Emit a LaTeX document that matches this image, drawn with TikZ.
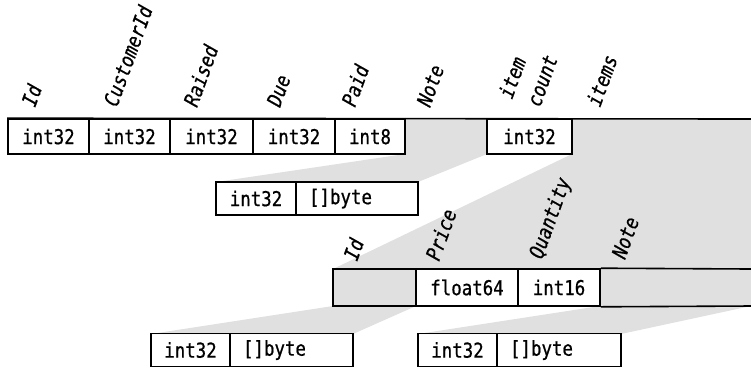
\documentclass[tikz,border=0pt]{standalone}
\usepackage{fontspec}
\newfontfamily\monof[FakeStretch=0.85,FakeBold=0.7]{DejaVu Sans Mono}
\begin{document}
\begin{tikzpicture}[x=1pt,y={(0pt,-1pt)},
  cell/.style={draw, line width=1.6pt, inner sep=0pt, minimum height=35pt,
    font=\monof\fontsize{20.5}{24}\selectfont},
  bcell/.style={cell, text width=#1, align=left, inner xsep=13pt},
  bord/.style={line width=1.6pt},
  lab/.style={rotate=70, anchor=base west, inner sep=0pt,
    font=\monof\itshape\fontsize{20.5}{24}\selectfont}]
\useasboundingbox (0,0) rectangle (751,368);
% ---- shaded areas (fans) ----
\fill[black!12] (405,119) -- (487,119) -- (487,154) -- (418,182) -- (216,182) -- (405,154) -- cycle;
\fill[black!12] (572,119) -- (751,119) -- (751,269) -- (333,269) -- (572,154) -- cycle;
\fill[black!12] (333,269) -- (416,269) -- (416,306) -- (353,334) -- (151,334) -- (333,306) -- cycle;
\fill[black!12] (600,269) -- (751,269) -- (751,306) -- (621,334) -- (418,334) -- (600,306) -- cycle;
% ---- top row ----
\node[cell, minimum width=81pt] (c1) at (48.5,136.5) {int32};
\node[cell, minimum width=81pt] (c2) at (129.5,136.5) {int32};
\node[cell, minimum width=83pt] (c3) at (211.5,136.5) {int32};
\node[cell, minimum width=82pt] (c4) at (294,136.5) {int32};
\node[cell, minimum width=70pt] (c5) at (370,136.5) {int8};
\node[cell, minimum width=85pt] (c7) at (529.5,136.5) {int32};
\coordinate (tr) at (751,119);
\draw[bord] (c1.north west) -- (tr);
% ---- note expansion ----
\node[cell, minimum width=80pt, minimum height=33pt] (n1) at (256,198.5) {int32};
\node[bcell=96pt, minimum height=33pt] (n2) at (357,198.5) {[]byte};
% ---- item row ----
\node[cell, minimum width=83pt, minimum height=37pt] (d1) at (374.5,287.5) {};
\node[cell, minimum width=102pt, minimum height=37pt] (d2) at (467,287.5) {float64};
\node[cell, minimum width=82pt, minimum height=37pt] (d3) at (559,287.5) {int16};
\coordinate (dtr) at (751,269);
\coordinate (dbr) at (751,306);
\draw[bord] (d3.north east) -- (dtr);
\draw[bord] (d3.south east) -- (dbr);
% ---- bottom boxes ----
\node[cell, minimum width=79pt, minimum height=33pt] (e1) at (190.5,350) {int32};
\node[bcell=97pt, minimum height=33pt] (e2) at (291.5,350) {[]byte};
\node[cell, minimum width=79pt, minimum height=33pt] (f1) at (457.5,350) {int32};
\node[bcell=98pt, minimum height=33pt] (f2) at (559,350) {[]byte};
% ---- labels, top row ----
\node[lab] (l1) at (35,108) {Id};
\node[lab] (l2) at (117,108) {CustomerId};
\node[lab] (l3) at (197,108) {Raised};
\node[lab] (l4) at (280,108) {Due};
\node[lab] (l5) at (355,108) {Paid};
\node[lab] (l6) at (430,108) {Note};
\node[lab] (l7) at (512,100) {item};
\node[lab] (l8) at (540,108) {count};
\node[lab] (l9) at (600,108) {items};
% ---- labels, item row ----
\node[lab] (m1) at (357,262) {Id};
\node[lab] (m2) at (439,262) {Price};
\node[lab] (m3) at (542,260) {Quantity};
\node[lab] (m4) at (625,260) {Note};
\end{tikzpicture}
\end{document}
